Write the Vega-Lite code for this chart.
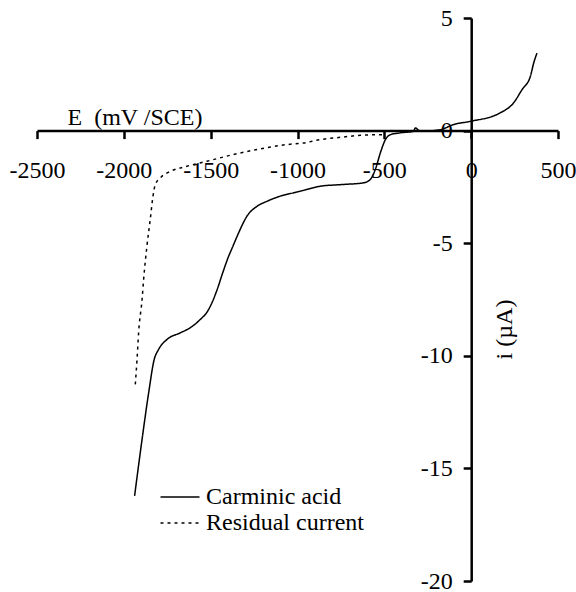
{
  "$schema": "https://vega.github.io/schema/vega-lite/v6.json",
  "width": 521,
  "height": 563,
  "autosize": {"type": "none"},
  "padding": {"left": 37, "top": 18, "right": 18, "bottom": 11},
  "background": "white",
  "config": {
    "view": {"stroke": null},
    "font": "Liberation Serif",
    "axis": {
      "grid": false,
      "domainColor": "black",
      "domainWidth": 2.5,
      "tickColor": "black",
      "tickWidth": 2.5,
      "tickSize": 8,
      "labelFont": "Liberation Serif",
      "labelFontSize": 24,
      "labelColor": "black",
      "titleFont": "Liberation Serif",
      "titleFontSize": 24,
      "titleFontWeight": "normal",
      "titleColor": "black",
      "labelFlush": false,
      "labelOverlap": false
    },
    "legend": {
      "labelFont": "Liberation Serif",
      "labelFontSize": 24,
      "labelColor": "black"
    }
  },
  "data": {
    "values": [
      {"E": -1938, "i": -16.22, "s": "Carminic acid"},
      {"E": -1895, "i": -13.71, "s": "Carminic acid"},
      {"E": -1857, "i": -11.64, "s": "Carminic acid"},
      {"E": -1825, "i": -10.16, "s": "Carminic acid"},
      {"E": -1800, "i": -9.72, "s": "Carminic acid"},
      {"E": -1751, "i": -9.27, "s": "Carminic acid"},
      {"E": -1675, "i": -8.98, "s": "Carminic acid"},
      {"E": -1617, "i": -8.75, "s": "Carminic acid"},
      {"E": -1560, "i": -8.39, "s": "Carminic acid"},
      {"E": -1520, "i": -8.05, "s": "Carminic acid"},
      {"E": -1490, "i": -7.6, "s": "Carminic acid"},
      {"E": -1460, "i": -7.0, "s": "Carminic acid"},
      {"E": -1430, "i": -6.3, "s": "Carminic acid"},
      {"E": -1400, "i": -5.65, "s": "Carminic acid"},
      {"E": -1370, "i": -5.1, "s": "Carminic acid"},
      {"E": -1339, "i": -4.54, "s": "Carminic acid"},
      {"E": -1291, "i": -3.8, "s": "Carminic acid"},
      {"E": -1233, "i": -3.36, "s": "Carminic acid"},
      {"E": -1176, "i": -3.14, "s": "Carminic acid"},
      {"E": -1099, "i": -2.91, "s": "Carminic acid"},
      {"E": -1022, "i": -2.76, "s": "Carminic acid"},
      {"E": -984, "i": -2.69, "s": "Carminic acid"},
      {"E": -869, "i": -2.47, "s": "Carminic acid"},
      {"E": -754, "i": -2.4, "s": "Carminic acid"},
      {"E": -619, "i": -2.32, "s": "Carminic acid"},
      {"E": -581, "i": -2.17, "s": "Carminic acid"},
      {"E": -552, "i": -1.73, "s": "Carminic acid"},
      {"E": -523, "i": -0.99, "s": "Carminic acid"},
      {"E": -494, "i": -0.4, "s": "Carminic acid"},
      {"E": -465, "i": -0.18, "s": "Carminic acid"},
      {"E": -408, "i": -0.1, "s": "Carminic acid"},
      {"E": -331, "i": -0.03, "s": "Carminic acid"},
      {"E": -322, "i": 0.12, "s": "Carminic acid"},
      {"E": -293, "i": -0.03, "s": "Carminic acid"},
      {"E": -178, "i": 0.04, "s": "Carminic acid"},
      {"E": -101, "i": 0.27, "s": "Carminic acid"},
      {"E": -5, "i": 0.41, "s": "Carminic acid"},
      {"E": 168, "i": 0.79, "s": "Carminic acid"},
      {"E": 244, "i": 1.23, "s": "Carminic acid"},
      {"E": 293, "i": 1.82, "s": "Carminic acid"},
      {"E": 341, "i": 2.41, "s": "Carminic acid"},
      {"E": 360, "i": 3.0, "s": "Carminic acid"},
      {"E": 379, "i": 3.44, "s": "Carminic acid"},
      {"E": -1934, "i": -11.27, "s": "Residual current"},
      {"E": -1924, "i": -10.16, "s": "Residual current"},
      {"E": -1915, "i": -8.98, "s": "Residual current"},
      {"E": -1895, "i": -7.5, "s": "Residual current"},
      {"E": -1886, "i": -6.61, "s": "Residual current"},
      {"E": -1867, "i": -5.13, "s": "Residual current"},
      {"E": -1848, "i": -3.95, "s": "Residual current"},
      {"E": -1832, "i": -2.91, "s": "Residual current"},
      {"E": -1819, "i": -2.4, "s": "Residual current"},
      {"E": -1790, "i": -2.1, "s": "Residual current"},
      {"E": -1732, "i": -1.81, "s": "Residual current"},
      {"E": -1636, "i": -1.58, "s": "Residual current"},
      {"E": -1521, "i": -1.36, "s": "Residual current"},
      {"E": -1368, "i": -1.06, "s": "Residual current"},
      {"E": -1214, "i": -0.81, "s": "Residual current"},
      {"E": -1060, "i": -0.62, "s": "Residual current"},
      {"E": -965, "i": -0.55, "s": "Residual current"},
      {"E": -869, "i": -0.4, "s": "Residual current"},
      {"E": -754, "i": -0.3, "s": "Residual current"},
      {"E": -638, "i": -0.21, "s": "Residual current"},
      {"E": -504, "i": -0.18, "s": "Residual current"}
    ]
  },
  "mark": {"type": "line", "color": "black", "strokeWidth": 1.5, "interpolate": "monotone"},
  "encoding": {
    "x": {
      "field": "E",
      "type": "quantitative",
      "scale": {"domain": [-2500, 500], "nice": false, "zero": false},
      "axis": {
        "orient": "bottom",
        "offset": -450.4,
        "values": [-2500, -2000, -1500, -1000, -500, 0, 500],
        "labelExpr": "datum.value + ''",
        "labelFont": "Liberation Serif",
        "labelBaseline": "alphabetic",
        "labelPadding": 39,
        "title": "E\u00a0\u00a0(mV /SCE)",
        "titleAlign": "left",
        "titleBaseline": "alphabetic",
        "titleAnchor": null,
        "titleX": 30,
        "titleY": -6
      }
    },
    "y": {
      "field": "i",
      "type": "quantitative",
      "scale": {"domain": [-20, 5], "nice": false, "zero": false},
      "axis": {
        "orient": "left",
        "offset": -434.2,
        "values": [-20, -15, -10, -5, 0, 5],
        "labelExpr": "datum.value + ''",
        "labelFont": "Liberation Serif",
        "labelPadding": 11,
        "labelBaseline": "middle",
        "title": "i (µA)",
        "titleAngle": -90,
        "titleAlign": "center",
        "titleBaseline": "alphabetic",
        "titleAnchor": null,
        "titleX": 40,
        "titleY": 311
      }
    },
    "strokeDash": {
      "field": "s",
      "type": "nominal",
      "scale": {"domain": ["Carminic acid", "Residual current"], "range": [[1, 0], [3, 4]]},
      "legend": {
        "title": null,
        "orient": "none",
        "legendX": 131,
        "legendY": 467,
        "padding": 0,
        "symbolType": "M-2,0H2",
        "symbolSize": 380,
        "symbolStrokeWidth": 1.5,
        "symbolStrokeColor": "black",
        "symbolFillColor": "transparent",
        "rowPadding": 2,
        "labelOffset": 14
      }
    }
  }
}
